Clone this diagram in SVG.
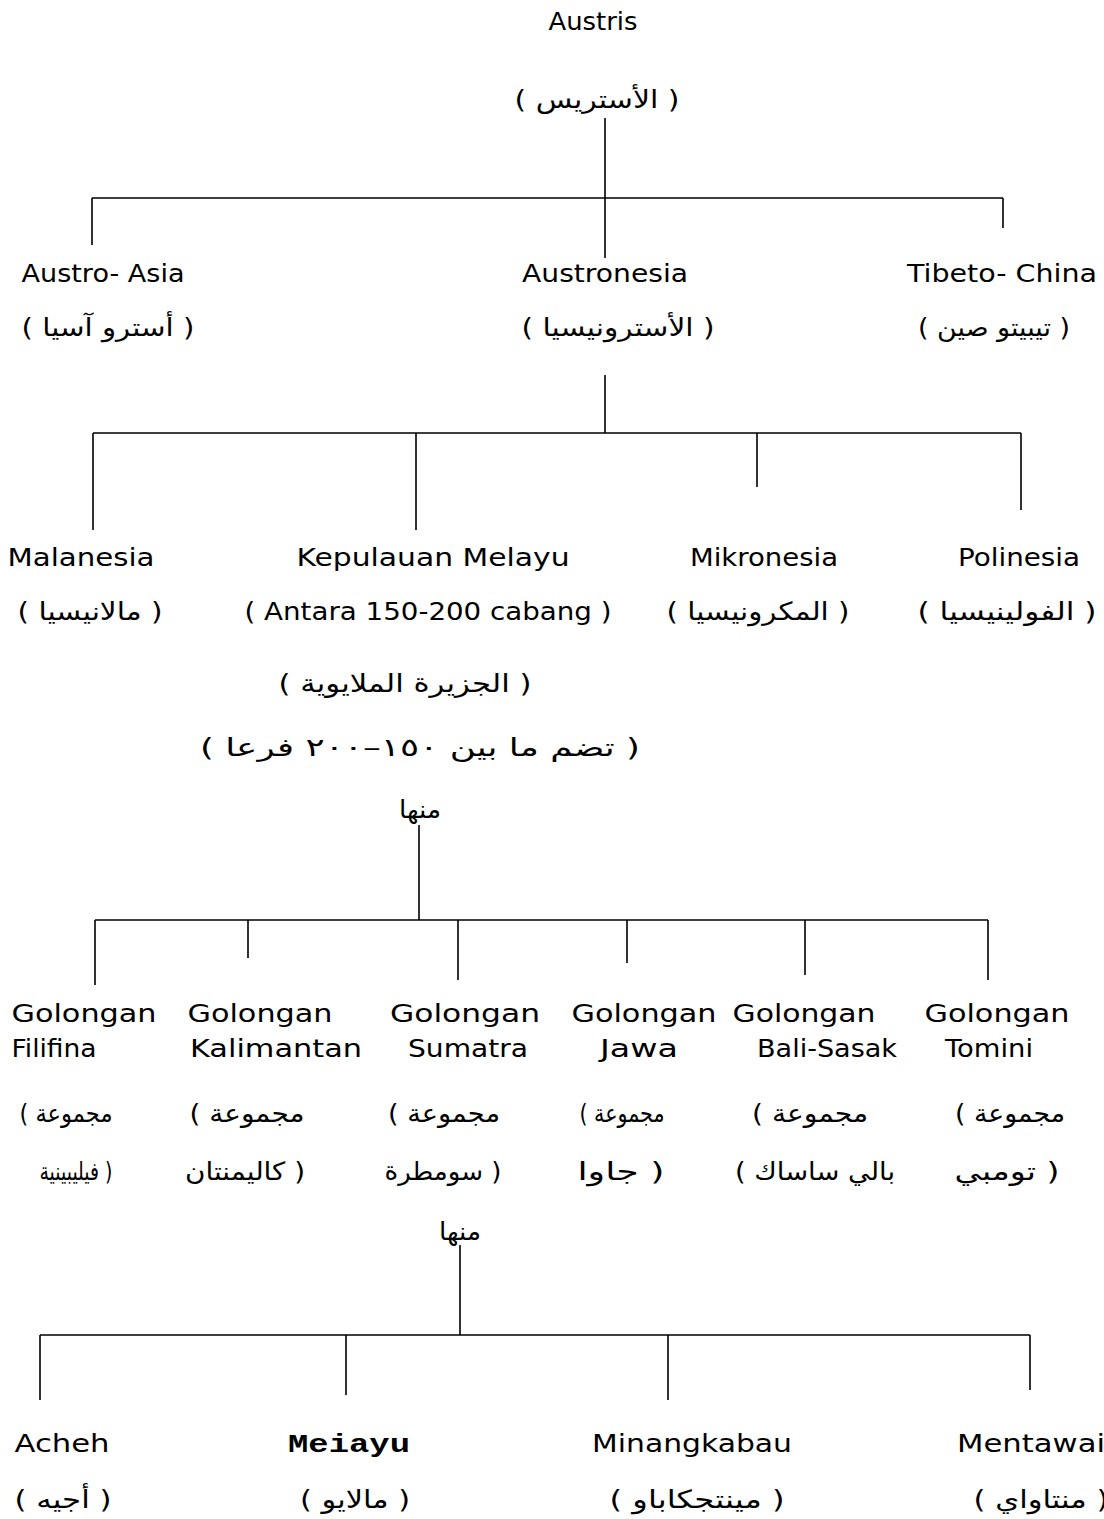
<svg xmlns="http://www.w3.org/2000/svg" width="1104" height="1519" viewBox="0 0 1104 1519">
<style>
.lat{font-family:"DejaVu Sans","Liberation Sans",sans-serif;font-size:24px;fill:#000;text-anchor:middle}
.ar{font-family:"DejaVu Sans","Noto Sans",sans-serif;font-size:25px;fill:#000;text-anchor:middle;direction:rtl;unicode-bidi:embed}
.arl{font-family:"DejaVu Sans","Noto Sans",sans-serif;font-size:25px;fill:#000;text-anchor:middle;direction:ltr;unicode-bidi:embed}
.mono{font-family:"Liberation Mono","DejaVu Sans Mono",monospace;font-size:26px;font-weight:bold;fill:#000;text-anchor:middle}
.ln{stroke:#000;stroke-width:1.6;fill:none}
</style>
<rect width="1104" height="1519" fill="#fff"/>
<g id="connectors">
<path class="ln" d="M605 118V198M92 198H1003M92 198V245M605 198V258M1003 198V228"/>
<path class="ln" d="M605 375V433M93 433H1021M93 433V530M416 433V530M757 433V487M1021 433V510"/>
<path class="ln" d="M419 825V920M95 920H988M95 920V985M248 920V958M458 920V980M627 920V963M805 920V975M988 920V980"/>
<path class="ln" d="M460 1245V1335M40 1335H1030M40 1335V1400M346 1335V1395M668 1335V1400M1030 1335V1390"/>
</g>
<g id="austris">
<text class="lat" x="593" y="30" textLength="89" lengthAdjust="spacingAndGlyphs">Austris</text>
<text class="ar" x="597" y="108" textLength="165" lengthAdjust="spacingAndGlyphs">( الأستريس )</text>
</g>
<g id="austro-asia">
<text class="lat" x="103" y="282" textLength="163" lengthAdjust="spacingAndGlyphs">Austro- Asia</text>
<text class="ar" x="108" y="336" textLength="173" lengthAdjust="spacingAndGlyphs">( أسترو آسيا )</text>
</g>
<g id="austronesia">
<text class="lat" x="605" y="282" textLength="166" lengthAdjust="spacingAndGlyphs">Austronesia</text>
<text class="ar" x="618" y="336" textLength="193" lengthAdjust="spacingAndGlyphs">( الأسترونيسيا )</text>
</g>
<g id="tibeto-china">
<text class="lat" x="1002" y="282" textLength="190" lengthAdjust="spacingAndGlyphs">Tibeto- China</text>
<text class="ar" x="994" y="336" textLength="152" lengthAdjust="spacingAndGlyphs">( تيبيتو صين )</text>
</g>
<g id="malanesia">
<text class="lat" x="81" y="566" textLength="147" lengthAdjust="spacingAndGlyphs">Malanesia</text>
<text class="ar" x="90" y="620" textLength="145" lengthAdjust="spacingAndGlyphs">( مالانيسيا )</text>
</g>
<g id="kepulauan-melayu">
<text class="lat" x="433" y="566" textLength="273" lengthAdjust="spacingAndGlyphs">Kepulauan Melayu</text>
<text class="lat" x="428" y="620" textLength="367" lengthAdjust="spacingAndGlyphs">( Antara 150-200 cabang )</text>
<text class="ar" x="405" y="692" textLength="253" lengthAdjust="spacingAndGlyphs">( الجزيرة الملايوية )</text>
<text class="ar" x="420" y="756" textLength="440" lengthAdjust="spacingAndGlyphs">( تضم ما بين ١٥٠–٢٠٠ فرعا )</text>
<text class="ar" x="420" y="818" textLength="42" lengthAdjust="spacingAndGlyphs">منها</text>
</g>
<g id="mikronesia">
<text class="lat" x="764" y="566" textLength="148" lengthAdjust="spacingAndGlyphs">Mikronesia</text>
<text class="ar" x="758" y="620" textLength="183" lengthAdjust="spacingAndGlyphs">( المكرونيسيا )</text>
</g>
<g id="polinesia">
<text class="lat" x="1019" y="566" textLength="122" lengthAdjust="spacingAndGlyphs">Polinesia</text>
<text class="ar" x="1007" y="620" textLength="179" lengthAdjust="spacingAndGlyphs">( الفولينيسيا )</text>
</g>
<g id="filifina">
<text class="lat" x="84" y="1022" textLength="145" lengthAdjust="spacingAndGlyphs">Golongan</text>
<text class="lat" x="54" y="1057" textLength="85" lengthAdjust="spacingAndGlyphs">Filifina</text>
<text class="arl" x="66" y="1122" textLength="93" lengthAdjust="spacingAndGlyphs">( مجموعة</text>
<text class="arl" x="76" y="1180" textLength="73" lengthAdjust="spacingAndGlyphs">فيليبينية )</text>
</g>
<g id="kalimantan">
<text class="lat" x="260" y="1022" textLength="145" lengthAdjust="spacingAndGlyphs">Golongan</text>
<text class="lat" x="276" y="1057" textLength="172" lengthAdjust="spacingAndGlyphs">Kalimantan</text>
<text class="arl" x="247" y="1122" textLength="115" lengthAdjust="spacingAndGlyphs">( مجموعة</text>
<text class="arl" x="245" y="1180" textLength="120" lengthAdjust="spacingAndGlyphs">كاليمنتان )</text>
</g>
<g id="sumatra">
<text class="lat" x="465" y="1022" textLength="150" lengthAdjust="spacingAndGlyphs">Golongan</text>
<text class="lat" x="468" y="1057" textLength="120" lengthAdjust="spacingAndGlyphs">Sumatra</text>
<text class="arl" x="444" y="1122" textLength="112" lengthAdjust="spacingAndGlyphs">( مجموعة</text>
<text class="arl" x="443" y="1180" textLength="117" lengthAdjust="spacingAndGlyphs">سومطرة )</text>
</g>
<g id="jawa">
<text class="lat" x="644" y="1022" textLength="145" lengthAdjust="spacingAndGlyphs">Golongan</text>
<text class="lat" x="639" y="1057" textLength="78" lengthAdjust="spacingAndGlyphs">Jawa</text>
<text class="arl" x="622" y="1122" textLength="85" lengthAdjust="spacingAndGlyphs">( مجموعة</text>
<text class="arl" x="621" y="1180" textLength="87" lengthAdjust="spacingAndGlyphs">جاوا )</text>
</g>
<g id="bali-sasak">
<text class="lat" x="804" y="1022" textLength="143" lengthAdjust="spacingAndGlyphs">Golongan</text>
<text class="lat" x="827" y="1057" textLength="140" lengthAdjust="spacingAndGlyphs">Bali-Sasak</text>
<text class="arl" x="810" y="1122" textLength="116" lengthAdjust="spacingAndGlyphs">( مجموعة</text>
<text class="arl" x="815" y="1180" textLength="160" lengthAdjust="spacingAndGlyphs">( بالي ساساك</text>
</g>
<g id="tomini">
<text class="lat" x="997" y="1022" textLength="145" lengthAdjust="spacingAndGlyphs">Golongan</text>
<text class="lat" x="989" y="1057" textLength="88" lengthAdjust="spacingAndGlyphs">Tomini</text>
<text class="arl" x="1010" y="1122" textLength="110" lengthAdjust="spacingAndGlyphs">( مجموعة</text>
<text class="arl" x="1007" y="1180" textLength="105" lengthAdjust="spacingAndGlyphs">تومبي )</text>
</g>
<g id="minha-sumatra">
<text class="ar" x="460" y="1240" textLength="42" lengthAdjust="spacingAndGlyphs">منها</text>
</g>
<g id="acheh">
<text class="lat" x="62" y="1452" textLength="95" lengthAdjust="spacingAndGlyphs">Acheh</text>
<text class="ar" x="63" y="1508" textLength="97" lengthAdjust="spacingAndGlyphs">( أجيه )</text>
</g>
<g id="melayu">
<text class="mono" x="349" y="1452" textLength="122" lengthAdjust="spacingAndGlyphs">Meiayu</text>
<text class="ar" x="355" y="1508" textLength="110" lengthAdjust="spacingAndGlyphs">( مالايو )</text>
</g>
<g id="minangkabau">
<text class="lat" x="692" y="1452" textLength="200" lengthAdjust="spacingAndGlyphs">Minangkabau</text>
<text class="ar" x="697" y="1508" textLength="175" lengthAdjust="spacingAndGlyphs">( مينتجكاباو )</text>
</g>
<g id="mentawai">
<text class="lat" x="1031" y="1452" textLength="148" lengthAdjust="spacingAndGlyphs">Mentawai</text>
<text class="ar" x="1041" y="1508" textLength="135" lengthAdjust="spacingAndGlyphs">( منتاواي )</text>
</g>
</svg>
